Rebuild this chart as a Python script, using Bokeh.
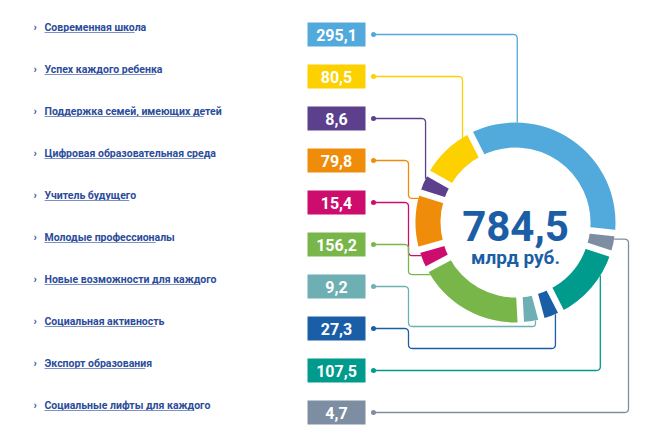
import math
from bokeh.plotting import figure
from bokeh.models import Range1d
from bokeh.core.properties import value
from bokeh.embed import file_html
from bokeh.resources import INLINE

# ---------------- data ----------------
categories = [
    "Современная школа",
    "Успех каждого ребенка",
    "Поддержка семей, имеющих детей",
    "Цифровая образовательная среда",
    "Учитель будущего",
    "Молодые профессионалы",
    "Новые возможности для каждого",
    "Социальная активность",
    "Экспорт образования",
    "Социальные лифты для каждого",
]
values = [295.1, 80.5, 8.6, 79.8, 15.4, 156.2, 9.2, 27.3, 107.5, 4.7]
value_labels = ["295,1", "80,5", "8,6", "79,8", "15,4", "156,2", "9,2", "27,3", "107,5", "4,7"]
total_label = "784,5"
unit_label = "млрд руб."
colors = ["#52a9dc", "#fdd000", "#5c3f8d", "#ef8d0a", "#cc0d6d",
          "#79b64a", "#6eafb4", "#1b5ea8", "#009b8c", "#7e8ea2"]

# ---------------- layout (reference pixel space, y down) ----------------
H = 436
def Y(py):
    return H - py

CX, CY = 515, 222
R_OUT, R_IN = 100, 75
START = 333.0          # compass degrees, clockwise from top
MIN_DEG = 12.0
ring_order = [0, 9, 8, 7, 6, 5, 4, 3, 2, 1]   # clockwise from top

def spans(vals, min_deg):
    fixed = set()
    while True:
        rest = 360 - min_deg * len(fixed)
        s = sum(v for i, v in enumerate(vals) if i not in fixed)
        new = {i for i, v in enumerate(vals) if i not in fixed and v / s * rest < min_deg}
        if not new:
            return [min_deg if i in fixed else v / s * rest for i, v in enumerate(vals)]
        fixed |= new

ordered_vals = [values[i] for i in ring_order]
sp = spans(ordered_vals, MIN_DEG)
seg_range = {}
a = START
for idx, s in zip(ring_order, sp):
    seg_range[idx] = (a, a + s)
    a += s

def pt(theta_deg, r):
    t = math.radians(theta_deg)
    return CX + r * math.sin(t), CY - r * math.cos(t)

p = figure(width=651, height=432, x_range=Range1d(0, 651), y_range=Range1d(4, 436),
           output_backend="svg", toolbar_location=None,
           x_axis_location=None, y_axis_location=None, min_border=0)
p.xgrid.visible = False
p.ygrid.visible = False
p.outline_line_color = None
p.background_fill_color = "white"
p.border_fill_color = "white"

# ---- ring ----
ws, we, wc = [], [], []
for idx in ring_order:
    t1, t2 = seg_range[idx]
    ws.append(math.radians(90 - t2))
    we.append(math.radians(90 - t1))
    wc.append(colors[idx])
p.annular_wedge(x=[CX] * len(ws), y=[Y(CY)] * len(ws), inner_radius=R_IN, outer_radius=R_OUT,
                start_angle=ws, end_angle=we, color=wc, line_color=None)

# white gaps
gx0, gy0, gx1, gy1 = [], [], [], []
for idx in ring_order:
    t1, _ = seg_range[idx]
    x0, y0 = pt(t1, R_IN - 4)
    x1, y1 = pt(t1, R_OUT + 4)
    gx0.append(x0); gy0.append(Y(y0)); gx1.append(x1); gy1.append(Y(y1))
p.segment(x0=gx0, y0=gy0, x1=gx1, y1=gy1, line_color="white", line_width=6.5)

# ---- connectors ----
ROW0, ROW_STEP = 34, 42
DOT_X = 373
CHANNEL_X = 408
pref = [1, 328, 300, 287, 260, 240, 161, 148, 122, 97]
kind = ["drop", "drop", "drop", "side", "side", "side", "under", "under", "rise", "loop"]
under_y = {6: 326, 7: 348}
LOOP_X = 628

def rounded(pts, r=4, n=6):
    out = [pts[0]]
    for k in range(1, len(pts) - 1):
        ax_, ay_ = pts[k - 1]; px_, py_ = pts[k]; bx_, by_ = pts[k + 1]
        d1 = math.hypot(px_ - ax_, py_ - ay_); d2 = math.hypot(bx_ - px_, by_ - py_)
        rr = min(r, d1 / 2, d2 / 2)
        if rr < 0.05:
            out.append((px_, py_)); continue
        sx, sy = px_ - (px_ - ax_) / d1 * rr, py_ - (py_ - ay_) / d1 * rr
        ex, ey = px_ + (bx_ - px_) / d2 * rr, py_ + (by_ - py_) / d2 * rr
        for j in range(n + 1):
            t = j / n
            out.append(((1 - t) ** 2 * sx + 2 * (1 - t) * t * px_ + t * t * ex,
                        (1 - t) ** 2 * sy + 2 * (1 - t) * t * py_ + t * t * ey))
    out.append(pts[-1])
    return out

xs, ys, lc = [], [], []
for i in range(len(categories)):
    ry = ROW0 + ROW_STEP * i
    t1, t2 = seg_range[i]
    m = min(3.5, (t2 - t1) / 2)
    cand = [pref[i] + k * 360 for k in (-1, 0, 1, 2)]
    best = min(cand, key=lambda c: 0 if t1 + m <= c <= t2 - m else min(abs(c - t1 - m), abs(c - t2 + m)))
    th = min(max(best, t1 + m), t2 - m)
    ax_, ay_ = pt(th, R_OUT)
    k = kind[i]
    if k == "drop" or k == "rise":
        path = [(DOT_X, ry), (ax_, ry), (ax_, ay_)]
    elif k == "side":
        path = [(DOT_X, ry), (CHANNEL_X, ry), (CHANNEL_X, ay_), (ax_, ay_)]
    elif k == "under":
        uy = under_y[i]
        path = [(DOT_X, ry), (CHANNEL_X, ry), (CHANNEL_X, uy), (ax_, uy), (ax_, ay_)]
    else:
        path = [(DOT_X, ry), (LOOP_X, ry), (LOOP_X, ay_), (ax_, ay_)]
    rp = rounded(path)
    xs.append([q[0] for q in rp]); ys.append([Y(q[1]) for q in rp]); lc.append(colors[i])
p.multi_line(xs=xs, ys=ys, line_color=lc, line_width=1.3)

rows = [ROW0 + ROW_STEP * i for i in range(len(categories))]
p.scatter(x=[DOT_X] * len(rows), y=[Y(r) for r in rows], size=5, color=colors, line_color=None)

# ---- value boxes ----
BOX_L, BOX_R, BOX_H = 307, 365, 24
p.quad(left=[BOX_L] * len(rows), right=[BOX_R] * len(rows),
       top=[Y(r - BOX_H / 2) for r in rows], bottom=[Y(r + BOX_H / 2) for r in rows],
       color=colors, line_color=None)
p.text(x=[(BOX_L + BOX_R) / 2] * len(rows), y=[Y(r) for r in rows], text=value_labels,
       text_font=value("Roboto"), text_font_style="bold", text_font_size="16px",
       text_color="white", text_align="center", text_baseline="middle")

# ---- labels ----
LABEL_X = 44
label_rows = [r - 7 for r in rows]
p.text(x=[LABEL_X] * len(rows), y=[Y(r) for r in label_rows], text=categories,
       text_font=value("Roboto"), text_font_style="bold", text_font_size="10.5px",
       text_color="#2b4c9b", text_align="left", text_baseline="middle")
p.text(x=[33] * len(rows), y=[Y(r) for r in label_rows], text=["›"] * len(rows),
       text_font=value("Roboto"), text_font_style="bold", text_font_size="11px",
       text_color="#2b4c9b", text_align="left", text_baseline="middle")
CHAR_W = 5.3
p.segment(x0=[LABEL_X] * len(rows), y0=[Y(r + 5) for r in label_rows],
          x1=[LABEL_X + len(c) * CHAR_W for c in categories], y1=[Y(r + 5) for r in label_rows],
          line_color="#7c92c6", line_width=1)

# ---- center text ----
p.text(x=[CX], y=[Y(225)], text=[total_label], text_font=value("Roboto"),
       text_font_style="bold", text_font_size="42px", text_color="#1b5ea6",
       text_align="center", text_baseline="alphabetic")
p.text(x=[CX], y=[Y(257)], text=[unit_label], text_font=value("Roboto"),
       text_font_style="bold", text_font_size="19px", text_color="#1b5ea6",
       text_align="center", text_baseline="alphabetic")

open("out.html", "w").write(file_html(p, INLINE))
